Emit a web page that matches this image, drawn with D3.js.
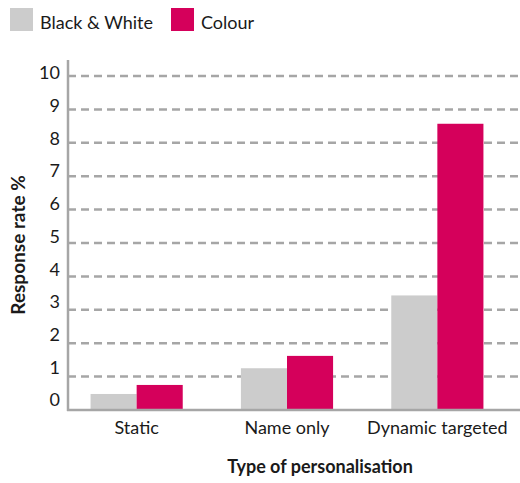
<!DOCTYPE html>
<html><head><meta charset="utf-8">
<script src="https://cdn.jsdelivr.net/npm/d3@7"></script>
<style>body{margin:0;background:#fff}svg{display:block}text{font-family:Lato,"Open Sans",sans-serif;fill:#1a1a1a}</style>
</head><body>
<svg id="c" width="520" height="483"></svg>
<script>
const categories = ["Static", "Name only", "Dynamic targeted"];
const seriesNames = ["Black & White", "Colour"];
const blackWhite = [0.48, 1.25, 3.43];
const colour = [0.75, 1.62, 8.57];
const yTicks = [0,1,2,3,4,5,6,7,8,9,10];
const colors = ["#cccccc", "#d5005b"];

const svg = d3.select("#c");
const x = d3.scaleBand().domain(categories).range([62, 512]).paddingInner(0.387).paddingOuter(0.19);
const y = d3.scaleLinear().domain([0, 10]).range([410, 76]);
const yLab = d3.scaleLinear().domain([0, 10]).range([400, 73]);
const xs = d3.scaleBand().domain(seriesNames).range([0, x.bandwidth()]);

// grid
svg.append("g").selectAll("line").data(yTicks.filter(d=>d>0)).join("line")
  .attr("x1", 68).attr("x2", 520).attr("y1", d=>y(d)).attr("y2", d=>y(d))
  .attr("stroke", "#a6a6a6").attr("stroke-width", 2.5).attr("stroke-dasharray", "8,5");

// bars
const series = [blackWhite, colour];
series.forEach((vals, si) => {
  svg.append("g").selectAll("rect").data(vals).join("rect")
    .attr("x", (d,i)=>x(categories[i]) + xs(seriesNames[si]))
    .attr("width", xs.bandwidth())
    .attr("y", d=>y(d)).attr("height", d=>y(0)-y(d))
    .attr("fill", colors[si]);
});

// axes lines
svg.append("line").attr("x1",68).attr("x2",68).attr("y1",60).attr("y2",411).attr("stroke","#a6a6a6").attr("stroke-width",2.5);
svg.append("line").attr("x1",67).attr("x2",520).attr("y1",410).attr("y2",410).attr("stroke","#a6a6a6").attr("stroke-width",2.5);

// y tick labels
svg.append("g").selectAll("text").data(yTicks).join("text")
  .attr("x", 60).attr("y", d=>yLab(d)).attr("dy","0.35em").attr("text-anchor","end")
  .style("font-size","18px").text(d=>d);

// x labels
svg.append("g").selectAll("text").data(categories).join("text")
  .attr("x", d=>x(d)+x.bandwidth()/2).attr("y", 434).attr("text-anchor","middle")
  .style("font-size","18px").text(d=>d);

// axis titles
svg.append("text").attr("x", 320).attr("y", 473).attr("text-anchor","middle")
  .style("font-size","18px").style("font-weight","bold").text("Type of personalisation");
svg.append("text").attr("transform","translate(25,245) rotate(-90)").attr("text-anchor","middle")
  .style("font-size","19px").style("font-weight","bold").text("Response rate %");

// legend
const lg = svg.append("g");
const lx = [10, 171];
seriesNames.forEach((n,i)=>{
  lg.append("rect").attr("x", lx[i]).attr("y", 8).attr("width", 23).attr("height", 23).attr("fill", colors[i]);
  lg.append("text").attr("x", lx[i]+30).attr("y", 29).style("font-size","18px").text(n);
});
</script>
</body></html>
